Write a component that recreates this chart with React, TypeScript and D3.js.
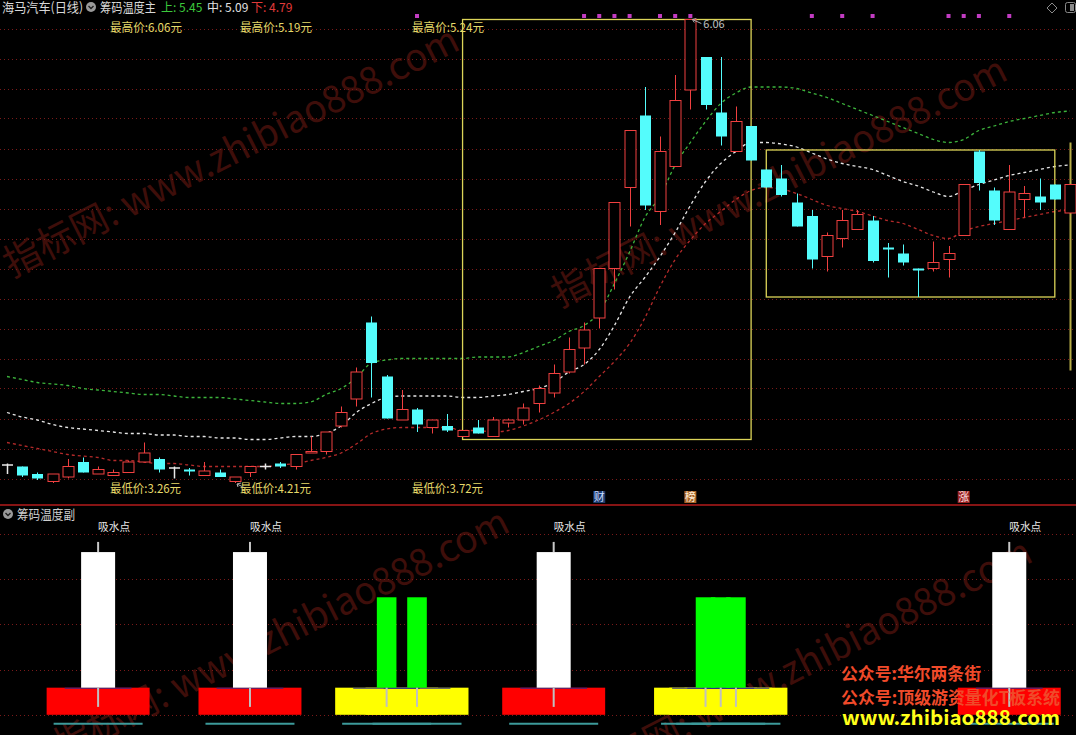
import React from 'react';
import * as d3 from 'd3';

const W = 1076;
const H = 735;
const FONT = "'Noto Sans CJK SC', 'Noto Sans', sans-serif";

// daily bars: [open, high, low, close]
const candles: [number, number, number, number][] = [
  [3.09, 3.10, 3.03, 3.09], [3.08, 3.08, 3.01, 3.02], [3.03, 3.04, 2.99, 3.00], [2.98, 3.03, 2.97, 3.03],
  [3.01, 3.13, 3.00, 3.08], [3.11, 3.14, 3.04, 3.04], [3.03, 3.08, 3.03, 3.06], [3.02, 3.06, 3.02, 3.04],
  [3.04, 3.12, 3.04, 3.11], [3.11, 3.24, 3.11, 3.17], [3.13, 3.14, 3.04, 3.06], [3.07, 3.08, 3.00, 3.07],
  [3.06, 3.07, 3.02, 3.05], [3.02, 3.11, 3.02, 3.05], [3.04, 3.06, 3.01, 3.01], [2.98, 3.01, 2.97, 3.01],
  [3.04, 3.08, 3.01, 3.08], [3.08, 3.10, 3.06, 3.08], [3.10, 3.11, 3.07, 3.08], [3.08, 3.16, 3.06, 3.16],
  [3.17, 3.28, 3.17, 3.18], [3.18, 3.31, 3.16, 3.31], [3.35, 3.48, 3.34, 3.44], [3.53, 3.74, 3.48, 3.71],
  [4.04, 4.08, 3.54, 3.77], [3.68, 3.69, 3.40, 3.40], [3.39, 3.59, 3.39, 3.46], [3.46, 3.47, 3.31, 3.36],
  [3.34, 3.39, 3.30, 3.39], [3.35, 3.43, 3.31, 3.32], [3.28, 3.32, 3.28, 3.32], [3.34, 3.39, 3.30, 3.30],
  [3.28, 3.41, 3.28, 3.39], [3.37, 3.40, 3.34, 3.39], [3.39, 3.50, 3.36, 3.47], [3.50, 3.62, 3.44, 3.60],
  [3.57, 3.76, 3.54, 3.70], [3.71, 3.94, 3.70, 3.86], [3.87, 4.04, 3.76, 3.99], [4.07, 4.40, 4.00, 4.40],
  [4.40, 4.84, 4.26, 4.84], [4.94, 5.32, 4.68, 5.32], [5.42, 5.61, 4.79, 4.82], [4.78, 5.28, 4.69, 5.18],
  [5.08, 5.69, 5.08, 5.52], [5.59, 6.06, 5.46, 6.06], [5.81, 5.81, 5.46, 5.49], [5.44, 5.81, 5.22, 5.28],
  [5.18, 5.48, 5.18, 5.38], [5.35, 5.35, 5.12, 5.12], [5.06, 5.06, 4.94, 4.94], [5.00, 5.09, 4.88, 4.89],
  [4.84, 4.90, 4.68, 4.68], [4.75, 4.79, 4.40, 4.46], [4.48, 4.64, 4.38, 4.62], [4.60, 4.79, 4.54, 4.72],
  [4.66, 4.79, 4.66, 4.76], [4.72, 4.75, 4.44, 4.45], [4.54, 4.57, 4.34, 4.53], [4.50, 4.56, 4.42, 4.44],
  [4.40, 4.40, 4.21, 4.39], [4.40, 4.58, 4.38, 4.44], [4.46, 4.55, 4.34, 4.50], [4.62, 4.96, 4.62, 4.96],
  [5.18, 5.19, 4.92, 4.97], [4.92, 4.94, 4.69, 4.72], [4.66, 5.09, 4.66, 4.91], [4.86, 4.95, 4.74, 4.90],
  [4.88, 5.00, 4.79, 4.84], [4.96, 4.96, 4.86, 4.86], [4.77, 4.96, 4.77, 4.96],
];

// chip bands (upper / middle / lower)
const bandUpper = [
  3.68, 3.66, 3.64, 3.63, 3.62, 3.60, 3.59, 3.58, 3.57, 3.56,
  3.56, 3.55, 3.54, 3.54, 3.54, 3.53, 3.52, 3.51, 3.50, 3.50,
  3.51, 3.56, 3.60, 3.67, 3.77, 3.79, 3.80, 3.80, 3.80, 3.80,
  3.80, 3.81, 3.81, 3.81, 3.84, 3.88, 3.92, 3.98, 4.02, 4.11,
  4.30, 4.51, 4.74, 4.88, 5.09, 5.24, 5.38, 5.50, 5.57, 5.61,
  5.61, 5.61, 5.60, 5.57, 5.54, 5.50, 5.46, 5.42, 5.38, 5.34,
  5.30, 5.26, 5.24, 5.26, 5.32, 5.35, 5.38, 5.40, 5.42, 5.44,
  5.45,
];
const bandMid = [
  3.44, 3.41, 3.39, 3.36, 3.34, 3.33, 3.32, 3.31, 3.30, 3.30,
  3.29, 3.29, 3.28, 3.28, 3.27, 3.27, 3.26, 3.26, 3.27, 3.28,
  3.28, 3.30, 3.35, 3.44, 3.50, 3.54, 3.55, 3.55, 3.55, 3.55,
  3.54, 3.54, 3.55, 3.56, 3.58, 3.60, 3.64, 3.71, 3.76, 3.86,
  4.02, 4.21, 4.34, 4.48, 4.64, 4.82, 4.98, 5.10, 5.18, 5.24,
  5.24, 5.23, 5.21, 5.17, 5.13, 5.10, 5.08, 5.06, 5.02, 4.98,
  4.95, 4.91, 4.88, 4.92, 4.96, 4.99, 5.02, 5.04, 5.06, 5.08,
  5.09,
];
const bandLower = [
  3.24, 3.22, 3.20, 3.18, 3.16, 3.15, 3.14, 3.12, 3.12, 3.11,
  3.10, 3.10, 3.09, 3.08, 3.08, 3.08, 3.08, 3.08, 3.09, 3.10,
  3.12, 3.14, 3.17, 3.23, 3.30, 3.33, 3.34, 3.34, 3.34, 3.34,
  3.32, 3.32, 3.31, 3.32, 3.35, 3.39, 3.44, 3.50, 3.58, 3.68,
  3.78, 3.90, 4.07, 4.28, 4.46, 4.59, 4.70, 4.78, 4.86, 4.92,
  4.94, 4.93, 4.90, 4.86, 4.82, 4.80, 4.78, 4.75, 4.72, 4.70,
  4.66, 4.62, 4.60, 4.65, 4.68, 4.70, 4.72, 4.74, 4.76, 4.78,
  4.79,
];

const gridPrices = [3.0, 3.2, 3.4, 3.6, 3.8, 4.0, 4.2, 4.4, 4.6, 4.8, 5.0, 5.2, 5.4, 5.6, 5.8, 6.0];

// consolidation boxes
const boxFrom = [30, 50, 70];
const boxTo = [49, 69, 70];
const boxHigh = [6.06, 5.19, 5.24];
const boxLow = [3.26, 4.21, 3.72];

const signalDots = [27, 38, 39, 40, 41, 43, 44, 45, 53, 55, 57, 62, 63, 64, 66];
const tagIdx = [39, 45, 63];
const tagText = ['财', '榜', '涨'];

// sub panel
const subGrid = [20, 40, 60, 80, 100];
const whiteSignals = [6, 16, 36, 66];
const greenSignals = [25, 27, 46, 47, 48];
const baseTop = 32;
const baseBottom = 20;
const whiteTop = 92;
const whiteCap = 96.5;
const greenTop = 72;
const tickEnd = 23.5;
const floorLine = 16;

export default function App() {
  const n = candles.length;
  const x = d3.scaleLinear().domain([0, n - 1]).range([7, 1070]);
  const step = x(1) - x(0);
  const y = d3.scaleLinear().domain([2.86, 6.19]).range([499.5, 0]);
  const ys = d3.scaleLinear().domain([0, 100]).range([760, 534]);
  const line = d3.line<number>().x((_, i) => x(i)).y(d => y(d)).curve(d3.curveMonotoneX);
  const bw = 11;

  const last = n - 1;
  const highLabels = boxHigh.map(v => `最高价:${v.toFixed(2)}元`);
  const lowLabels = boxLow.map(v => `最低价:${v.toFixed(2)}元`);
  const labelX = [110, 240, 412];
  const tagBg = ['#1d3a6c', '#a8642a', '#9a2222'];
  const tagFg = ['#c8dcff', '#fff0d8', '#ffe0e0'];
  const maxIdx = d3.maxIndex(candles, d => d[1]);

  const watermark = (tx: number, ty: number, key: string) => (
    <text key={key} transform={`translate(${tx},${ty}) rotate(-27)`} fontFamily={FONT} fontSize={38}
      fill="#3e0e0a" textLength={505} lengthAdjust="spacingAndGlyphs">指标网: www.zhibiao888.com</text>
  );

  return (
    <svg width={W} height={H} style={{ position: 'absolute', left: 0, top: 0, background: '#000' }}>
      <rect width={W} height={H} fill="#000" />

      {/* watermarks */}
      {watermark(12, 278, 'w1')}
      {watermark(560, 308, 'w2')}
      {watermark(62, 760, 'w3')}
      {watermark(585, 790, 'w4')}

      {/* grid */}
      {gridPrices.map(p => (
        <line key={p} x1={0} x2={W} y1={Math.round(y(p)) + 0.5} y2={Math.round(y(p)) + 0.5}
          stroke="#7a1a1a" strokeDasharray="1 3" />
      ))}
      {subGrid.map(v => (
        <line key={v} x1={0} x2={W} y1={Math.round(ys(v)) + 0.5} y2={Math.round(ys(v)) + 0.5}
          stroke="#7a1a1a" strokeDasharray="1 3" />
      ))}

      {/* bands */}
      <path d={line(bandUpper) || ''} fill="none" stroke="#3cb43c" strokeWidth={1.3} strokeDasharray="3 3" />
      <path d={line(bandMid) || ''} fill="none" stroke="#e6e6e6" strokeWidth={1.3} strokeDasharray="3 3" />
      <path d={line(bandLower) || ''} fill="none" stroke="#b42a2a" strokeWidth={1.3} strokeDasharray="3 3" />

      {/* boxes */}
      {boxFrom.map((f, i) => (
        boxTo[i] > f ? (
          <rect key={i} x={x(f)} y={y(boxHigh[i])} width={x(boxTo[i]) - x(f)} height={y(boxLow[i]) - y(boxHigh[i])}
            fill="none" stroke="#dcd458" strokeWidth={1.3} />
        ) : (
          <line key={i} x1={x(f) + 0.5} x2={x(f) + 0.5} y1={y(boxHigh[i])} y2={y(boxLow[i])}
            stroke="#b8ae48" strokeWidth={2} />
        )
      ))}

      {/* candles */}
      {candles.map(([o, h, l, c], i) => {
        const cx = Math.round(x(i)) + 0.5;
        if (c > o) {
          const top = y(c), bot = y(o);
          return (
            <g key={i} stroke="#f04040" strokeWidth={1}>
              <line x1={cx} x2={cx} y1={y(h)} y2={top} />
              <line x1={cx} x2={cx} y1={bot} y2={y(l)} />
              <rect x={cx - bw / 2} y={top} width={bw} height={Math.max(bot - top, 1)} fill="#000" />
            </g>
          );
        }
        if (c < o) {
          const top = y(o), bot = y(c);
          return (
            <g key={i}>
              <line x1={cx} x2={cx} y1={y(h)} y2={y(l)} stroke="#54fcfc" />
              <rect x={cx - bw / 2} y={top} width={bw} height={Math.max(bot - top, 2)} fill="#54fcfc" />
            </g>
          );
        }
        return (
          <g key={i} stroke="#e8e8e8" strokeWidth={1.5}>
            <line x1={cx} x2={cx} y1={y(h)} y2={y(l)} />
            <line x1={cx - bw / 2} x2={cx + bw / 2} y1={y(o)} y2={y(o)} />
          </g>
        );
      })}

      {/* signal dots */}
      {signalDots.map(i => (
        <rect key={i} x={x(i) - 2} y={14} width={4} height={4} fill="#c23cc2" />
      ))}

      {/* high marker */}
      <path d={`M${x(maxIdx) + 2},${y(candles[maxIdx][1])} L${x(maxIdx) + 11},${y(candles[maxIdx][1]) + 4} M${x(maxIdx) + 2},${y(candles[maxIdx][1])} l4,-1 M${x(maxIdx) + 2},${y(candles[maxIdx][1])} l2,3`}
        stroke="#b0b0b0" fill="none" />
      <text x={x(maxIdx) + 13} y={y(candles[maxIdx][1]) + 8} fontFamily={FONT} fontSize={11} fill="#c0c0c0">
        {candles[maxIdx][1].toFixed(2)}
      </text>

      {/* low marker arrow */}
      <path d="M237,484 l8,4 M237,484 l4,-1 M237,484 l1,3" stroke="#b0b0b0" fill="none" />

      {/* box labels */}
      {highLabels.map((t, i) => (
        <text key={t} x={labelX[i]} y={32} fontFamily={FONT} fontSize={12} fill="#e6da6a"
          textLength={72} lengthAdjust="spacingAndGlyphs">{t}</text>
      ))}
      {lowLabels.map((t, i) => (
        <text key={t} x={labelX[i]} y={493} fontFamily={FONT} fontSize={12} fill="#e6da6a"
          textLength={71} lengthAdjust="spacingAndGlyphs">{t}</text>
      ))}

      {/* event tags */}
      {tagIdx.map((i, k) => (
        <g key={i}>
          <rect x={x(i) - 6} y={491} width={12} height={12} fill={tagBg[k]} />
          <text x={x(i)} y={501} textAnchor="middle" fontFamily={FONT} fontSize={11} fill={tagFg[k]}>{tagText[k]}</text>
        </g>
      ))}

      {/* header */}
      <text x={2} y={12} fontFamily={FONT} fontSize={13} fill="#d8d8d8" textLength={81} lengthAdjust="spacingAndGlyphs">海马汽车(日线)</text>
      <circle cx={91} cy={7} r={5} fill="#9a9a9a" />
      <path d="M88.5,6 L91,8.5 L93.5,6" stroke="#202020" strokeWidth={1.4} fill="none" />
      <text x={100} y={12} fontFamily={FONT} fontSize={13} fill="#d8d8d8" textLength={56} lengthAdjust="spacingAndGlyphs">筹码温度主</text>
      <text x={161} y={12} fontFamily={FONT} fontSize={12} fill="#3cc83c">{`上: ${bandUpper[last].toFixed(2)}`}</text>
      <text x={207} y={12} fontFamily={FONT} fontSize={12} fill="#e0e0e0">{`中: ${bandMid[last].toFixed(2)}`}</text>
      <text x={251} y={12} fontFamily={FONT} fontSize={12} fill="#e03a3a">{`下: ${bandLower[last].toFixed(2)}`}</text>

      {/* top-right icons */}
      <path d="M1052,3 L1057,8 L1052,13 L1047,8 Z" stroke="#8a8a8a" fill="none" />
      <rect x={1065.5} y={2.5} width={10} height={10} rx={2} stroke="#8a8a8a" fill="none" />
      <rect x={1070} y={4} width={4} height={7} fill="#8a8a8a" />

      {/* divider */}
      <line x1={0} x2={W} y1={505} y2={505} stroke="#861414" strokeWidth={2} />

      {/* sub panel */}
      <circle cx={8} cy={514} r={5} fill="#9a9a9a" />
      <path d="M5.5,513 L8,515.5 L10.5,513" stroke="#202020" strokeWidth={1.4} fill="none" />
      <text x={17} y={519} fontFamily={FONT} fontSize={13} fill="#d0d0d0" textLength={58} lengthAdjust="spacingAndGlyphs">筹码温度副</text>

      {[...whiteSignals, ...greenSignals].map(i => (
        <line key={'f' + i} x1={x(i) - step * 2.93} x2={x(i) + step * 2.93} y1={ys(floorLine)} y2={ys(floorLine)}
          stroke="#3c9a9a" strokeWidth={2} />
      ))}
      {whiteSignals.map(i => (
        <rect key={'rb' + i} x={x(i) - step * 3.39} y={ys(baseTop)} width={step * 6.78} height={ys(baseBottom) - ys(baseTop)} fill="#ff0000" />
      ))}
      {greenSignals.map(i => (
        <rect key={'yb' + i} x={x(i) - step * 3.39} y={ys(baseTop)} width={step * 6.78} height={ys(baseBottom) - ys(baseTop)} fill="#ffff00" />
      ))}
      {[...whiteSignals, ...greenSignals].map(i => (
        <rect key={'bl' + i} x={x(i) - step * 2.2} y={ys(baseTop)} width={step * 4.4} height={1} fill="#2a2a90" />
      ))}
      {whiteSignals.map(i => (
        <g key={'w' + i}>
          <line x1={x(i)} x2={x(i)} y1={ys(whiteCap)} y2={ys(whiteTop)} stroke="#c8c8c8" strokeWidth={2} />
          <rect x={x(i) - 17} y={ys(whiteTop)} width={34} height={ys(baseTop) - ys(whiteTop)} fill="#ffffff" />
          <text x={x(i)} y={531} fontFamily={FONT} fontSize={11} fill="#e8e8e8" textLength={32} lengthAdjust="spacingAndGlyphs">吸水点</text>
        </g>
      ))}
      {greenSignals.map(i => (
        <rect key={'g' + i} x={x(i) - 9.8} y={ys(greenTop)} width={19.6} height={ys(baseTop) - ys(greenTop)} fill="#00ff00" />
      ))}
      {[...whiteSignals, ...greenSignals].map(i => (
        <line key={'t' + i} x1={x(i)} x2={x(i)} y1={ys(baseTop)} y2={ys(tickEnd)} stroke="#c0c0c0" strokeWidth={2} />
      ))}

      {/* promo text */}
      <text x={841} y={680} fontFamily={FONT} fontWeight="bold" fontSize={17} fill="#f04a2a"
        textLength={140} lengthAdjust="spacingAndGlyphs">公众号:华尔两条街</text>
      <text x={841} y={704} fontFamily={FONT} fontWeight="bold" fontSize={17} fill="#f04a2a"
        textLength={219} lengthAdjust="spacingAndGlyphs">公众号:顶级游资量化T板系统</text>
      <text x={842} y={725} fontFamily={FONT} fontWeight="bold" fontSize={20} fill="#ffff1a"
        textLength={218} lengthAdjust="spacingAndGlyphs">www.zhibiao888.com</text>
    </svg>
  );
}
